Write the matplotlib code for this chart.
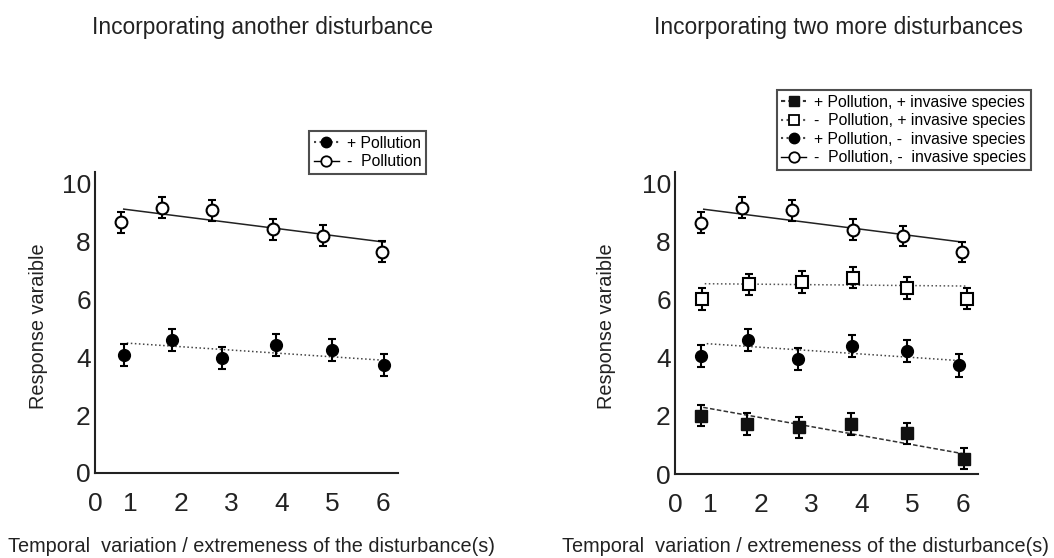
import matplotlib.pyplot as plt
from matplotlib.lines import Line2D

plt.rcParams['font.family'] = ['Liberation Sans', 'DejaVu Sans']

# --- Data ---
# open circles: - Pollution (- invasive species)
x_open_circ = [0.81, 1.62, 2.62, 3.82, 4.81, 5.98]
y_open_circ = [8.64, 9.15, 9.06, 8.40, 8.18, 7.63]
err_open_circ = [0.36, 0.36, 0.36, 0.36, 0.36, 0.36]

# filled circles: + Pollution (- invasive species)
x_fill_circ_left = [0.87, 1.82, 2.81, 3.88, 4.99, 6.02]
x_fill_circ_right = [0.80, 1.74, 2.73, 3.80, 4.90, 5.93]
y_fill_circ = [4.07, 4.60, 3.95, 4.40, 4.23, 3.73]
err_fill_circ = [0.38, 0.38, 0.38, 0.38, 0.38, 0.38]

# open squares: - Pollution, + invasive species
x_open_sq = [0.82, 1.75, 2.80, 3.83, 4.90, 6.09]
y_open_sq = [6.02, 6.52, 6.60, 6.75, 6.40, 6.03]
err_open_sq = [0.37, 0.37, 0.37, 0.37, 0.37, 0.37]

# filled squares: + Pollution, + invasive species
x_fill_sq = [0.80, 1.71, 2.75, 3.79, 4.89, 6.03]
y_fill_sq = [2.01, 1.72, 1.60, 1.72, 1.40, 0.53]
err_fill_sq = [0.37, 0.37, 0.37, 0.37, 0.37, 0.37]

# trend lines (start, end)
trend_open_circ_x, trend_open_circ_y = [0.86, 6.04], [9.10, 7.96]
trend_fill_circ_x, trend_fill_circ_y = [0.92, 6.0], [4.48, 3.89]
trend_open_sq_x, trend_open_sq_y = [0.88, 6.06], [6.54, 6.46]
trend_fill_sq_x, trend_fill_sq_y = [0.85, 6.03], [2.29, 0.69]

x_tick_pos = [0.3, 1, 2, 3, 4, 5, 6]
x_tick_labels = ['0', '1', '2', '3', '4', '5', '6']
y_ticks = [0, 2, 4, 6, 8, 10]

titles = ['Incorporating another disturbance', 'Incorporating two more disturbances']
xlabel = 'Temporal  variation / extremeness of the disturbance(s)'
ylabel = 'Response varaible'

fig = plt.figure(figsize=(10.54, 5.58), dpi=100)
ax1 = fig.add_axes([95 / 1054, 85 / 558, 303 / 1054, 301 / 558])
ax2 = fig.add_axes([675 / 1054, 84 / 558, 303 / 1054, 302 / 558])

err_kw = dict(ecolor='black', elinewidth=1.5, capsize=3, capthick=1.5, ls='none', zorder=3)


def style_axes(ax):
    ax.set_xlim(0.29, 6.3)
    ax.set_ylim(0, 10.38)
    ax.spines['top'].set_visible(False)
    ax.spines['right'].set_visible(False)
    for s in ('left', 'bottom'):
        ax.spines[s].set_linewidth(1.5)
        ax.spines[s].set_color('#222222')
    ax.set_xticks(x_tick_pos)
    ax.set_xticklabels(x_tick_labels)
    ax.set_yticks(y_ticks)
    ax.tick_params(axis='both', length=0, labelsize=19, colors='#222222')
    ax.tick_params(axis='x', pad=14)
    ax.tick_params(axis='y', pad=3)


def open_circles(ax):
    ax.plot(trend_open_circ_x, trend_open_circ_y, color='#222222', lw=1.1, zorder=2)
    ax.errorbar(x_open_circ, y_open_circ, yerr=err_open_circ, marker='o', ms=8.5,
                mfc='white', mec='black', mew=1.5, **err_kw)


def filled_circles(ax, xs):
    ax.plot(trend_fill_circ_x, trend_fill_circ_y, color='#444444', lw=1.1, ls=':', zorder=2)
    ax.errorbar(xs, y_fill_circ, yerr=err_fill_circ, marker='o', ms=8.5,
                mfc='black', mec='black', **err_kw)


leg_kw = dict(loc='upper right', bbox_transform=fig.transFigure, fontsize=11.3,
              frameon=True, fancybox=False, handlelength=1.6, handletextpad=0.5,
              borderpad=0.3, labelspacing=0.22, borderaxespad=0)

# --- Left panel ---
style_axes(ax1)
open_circles(ax1)
filled_circles(ax1, x_fill_circ_left)

leg_handles1 = [
    Line2D([], [], color='#444444', ls=':', marker='o', ms=7.5, mfc='black', mec='black'),
    Line2D([], [], color='black', ls='-', lw=1, marker='o', ms=7.5, mfc='white', mec='black', mew=1.3),
]
leg1 = fig.legend(leg_handles1, ['+ Pollution', '-  Pollution'],
                  bbox_to_anchor=(426 / 1054, 1 - 131 / 558), **leg_kw)
leg1.get_frame().set_edgecolor('#222222')
leg1.get_frame().set_linewidth(1.5)

# --- Right panel ---
style_axes(ax2)
open_circles(ax2)
filled_circles(ax2, x_fill_circ_right)
ax2.plot(trend_open_sq_x, trend_open_sq_y, color='#555555', lw=1.1, ls=':', zorder=2)
ax2.errorbar(x_open_sq, y_open_sq, yerr=err_open_sq, marker='s', ms=8,
             mfc='white', mec='black', mew=1.5, **err_kw)
ax2.plot(trend_fill_sq_x, trend_fill_sq_y, color='#333333', lw=1.1, ls=(0, (3, 1.5)), zorder=2)
ax2.errorbar(x_fill_sq, y_fill_sq, yerr=err_fill_sq, marker='s', ms=8,
             mfc='#111111', mec='#111111', **err_kw)

leg_handles2 = [
    Line2D([], [], color='#333333', ls=(0, (2, 1.5)), marker='s', ms=7, mfc='#111111', mec='#111111'),
    Line2D([], [], color='#555555', ls=':', marker='s', ms=7, mfc='white', mec='black', mew=1.3),
    Line2D([], [], color='#444444', ls=':', marker='o', ms=7.5, mfc='black', mec='black'),
    Line2D([], [], color='black', ls='-', lw=1, marker='o', ms=7.5, mfc='white', mec='black', mew=1.3),
]
leg2 = fig.legend(leg_handles2,
                  ['+ Pollution, + invasive species',
                   '-  Pollution, + invasive species',
                   '+ Pollution, -  invasive species',
                   '-  Pollution, -  invasive species'],
                  bbox_to_anchor=(1031 / 1054, 1 - 90 / 558), **leg_kw)
leg2.get_frame().set_edgecolor('#222222')
leg2.get_frame().set_linewidth(1.5)

# --- Titles and axis labels ---
text_kw = dict(color='#222222', ha='center')
fig.text(263 / 1054, 1 - 34 / 558, titles[0], fontsize=16.4, va='baseline', **text_kw)
fig.text(838 / 1054, 1 - 34 / 558, titles[1], fontsize=16.4, va='baseline', **text_kw)
fig.text(251 / 1054, 1 - 552 / 558, xlabel, fontsize=14.3, va='baseline', **text_kw)
fig.text(806 / 1054, 1 - 552 / 558, xlabel, fontsize=14.3, va='baseline', **text_kw)
fig.text(39 / 1054, 1 - 326 / 558, ylabel, fontsize=14.3, rotation=90, va='center', **text_kw)
fig.text(606 / 1054, 1 - 326 / 558, ylabel, fontsize=14.3, rotation=90, va='center', **text_kw)

fig.savefig('out.png', dpi=100, facecolor='white')
